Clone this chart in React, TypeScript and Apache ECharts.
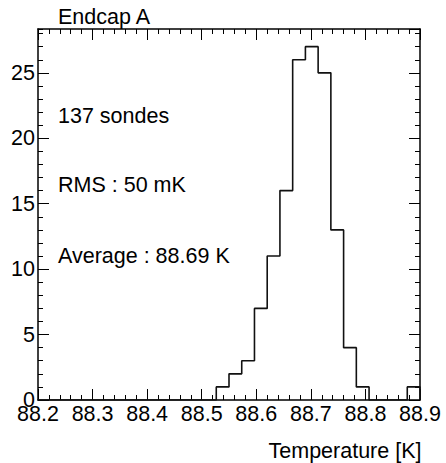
import React, { useEffect, useRef } from "react";
import * as echarts from "echarts";

// Histogram of probe temperatures, Endcap A
const xMin = 88.2;
const xMax = 88.9;
const binCounts = [
  0, 0, 0, 0, 0, 0, 0, 0, 0, 0,
  0, 0, 0, 0, 1, 2, 3, 7, 11, 16,
  26, 27, 25, 13, 4, 1, 0, 0, 0, 1,
];
const yMax = 28.35;
const xTickInterval = 0.1;
const yTickInterval = 5;
const titleText = "Endcap A";
const infoTexts = ["137 sondes", "RMS : 50 mK", "Average : 88.69 K"];
const xAxisTitle = "Temperature [K]";

const FONT = "Liberation Sans, Arial, Helvetica, sans-serif";
const FS = 21.5;
const INK = "#000";

export default function App() {
  const ref = useRef<HTMLDivElement>(null);
  useEffect(() => {
    if (!ref.current) return;
    const chart = echarts.init(ref.current, undefined, { renderer: "svg" });
    const nb = binCounts.length;
    const w = (xMax - xMin) / nb;
    const pts: [number, number][] = [];
    binCounts.forEach((v, i) => {
      pts.push([xMin + i * w, v]);
      pts.push([xMin + (i + 1) * w, v]);
    });
    pts.push([xMax, 0]);

    const lineStyle = { color: INK, width: 1.5 };
    const xCommon = {
      type: "value" as const,
      min: xMin,
      max: xMax,
      interval: xTickInterval,
      splitLine: { show: false },
      axisLine: { show: true, lineStyle, onZero: false },
      axisTick: { show: true, inside: true, length: 11, lineStyle: { color: INK, width: 1 } },
      minorTick: { show: true, splitNumber: 5, length: 5, lineStyle: { color: INK, width: 1 } },
    };
    const yMajor = {
      type: "value" as const,
      min: 0,
      max: yMax,
      interval: yTickInterval,
      splitLine: { show: false },
      axisLine: { show: true, lineStyle, onZero: false },
      axisTick: { show: true, inside: true, length: 11, lineStyle: { color: INK, width: 1 } },
    };
    const yMinor = {
      type: "value" as const,
      min: 0,
      max: yMax,
      interval: 1,
      splitLine: { show: false },
      axisLine: { show: false },
      axisLabel: { show: false },
      axisTick: { show: true, inside: true, length: 5, lineStyle: { color: INK, width: 1 } },
    };

    chart.setOption({
      animation: false,
      backgroundColor: "#fff",
      grid: { left: 38, right: 26, top: 29, bottom: 63, containLabel: false },
      xAxis: [
        {
          ...xCommon,
          position: "bottom",
          axisLabel: {
            show: true,
            margin: 3,
            color: INK,
            fontFamily: FONT,
            fontSize: FS,
            formatter: (v: number) => v.toFixed(1),
          },
        },
        { ...xCommon, position: "top", axisLabel: { show: false } },
      ],
      yAxis: [
        {
          ...yMajor,
          position: "left",
          axisLabel: {
            show: true,
            margin: 3,
            color: INK,
            fontFamily: FONT,
            fontSize: FS,
            showMaxLabel: false,
            formatter: (v: number) => (Math.abs(v % 5) < 1e-6 ? String(v) : ""),
          },
        },
        { ...yMinor, position: "left" },
        { ...yMajor, position: "right", axisLabel: { show: false } },
        { ...yMinor, position: "right" },
      ],
      series: [
        {
          type: "line",
          xAxisIndex: 0,
          yAxisIndex: 0,
          data: pts,
          showSymbol: false,
          symbol: "none",
          lineStyle: { color: "#111", width: 1.6 },
          z: 1,
        },
      ],
      graphic: [
        {
          type: "text",
          x: 58,
          y: 16.5,
          style: { text: titleText, font: `${FS}px ${FONT}`, fill: INK, textAlign: "left", textVerticalAlign: "middle" },
        },
        ...infoTexts.map((t, i) => ({
          type: "text",
          x: 58,
          y: [115.8, 185.2, 256][i],
          style: { text: t, font: `${FS}px ${FONT}`, fill: INK, textAlign: "left", textVerticalAlign: "middle" },
        })),
        {
          type: "text",
          x: 421.5,
          y: 450.8,
          style: { text: xAxisTitle, font: `${FS}px ${FONT}`, fill: INK, textAlign: "right", textVerticalAlign: "middle" },
        },
      ],
    });
    return () => chart.dispose();
  }, []);
  return (
    <div
      ref={ref}
      style={{ position: "fixed", left: 0, top: 0, width: 446, height: 463, background: "#fff" }}
    />
  );
}
